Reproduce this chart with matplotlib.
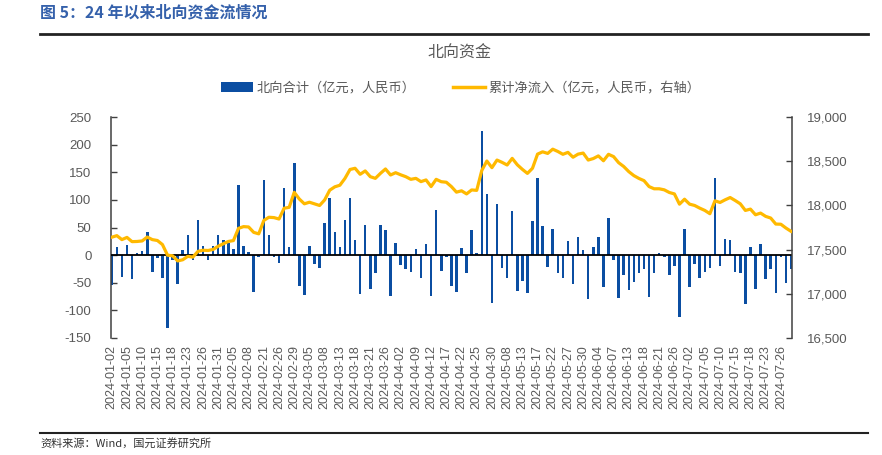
import matplotlib
matplotlib.use("Agg")
import matplotlib.pyplot as plt
from matplotlib.patches import Patch
from matplotlib.lines import Line2D
import numpy as np

plt.rcParams['font.family'] = ['Liberation Sans', 'Noto Sans CJK SC', 'DejaVu Sans']
plt.rcParams['axes.unicode_minus'] = False

# ---- data ----
trading_days = {
    1: [2, 3, 4, 5, 8, 9, 10, 11, 12, 15, 16, 17, 18, 19, 22, 23, 24, 25, 26, 29, 30, 31],
    2: [1, 2, 5, 6, 7, 8, 19, 20, 21, 22, 23, 26, 27, 28, 29],
    3: [1, 4, 5, 6, 7, 8, 11, 12, 13, 14, 15, 18, 19, 20, 21, 22, 25, 26, 27, 28],
    4: [2, 3, 8, 9, 10, 11, 12, 15, 16, 17, 18, 19, 22, 23, 24, 25, 26, 29, 30],
    5: [6, 7, 8, 9, 10, 13, 14, 16, 17, 20, 21, 22, 23, 24, 27, 28, 29, 30, 31],
    6: [3, 4, 5, 6, 7, 11, 12, 13, 14, 17, 18, 19, 20, 21, 24, 25, 26, 27, 28],
    7: [2, 3, 4, 5, 8, 9, 10, 11, 12, 15, 16, 17, 18, 19, 22, 23, 24, 25, 26, 29, 30],
}
dates = [f"2024-{m:02d}-{d:02d}" for m, days in trading_days.items() for d in days]

northbound = [
    -54, 15, -39, 19, -44, 3, 7, 42, -31, -5, -42, -131, -9, -53, 9, 37, -8, 63, 16, -8,
    17, 37, 27, 22, 11, 127, 16, 5, -66, -3, 136, 37, -3, -14, 122, 14, 166, -55, -73, 16,
    -16, -23, 59, 103, 42, 15, 63, 103, 28, -71, 54, -62, -33, 54, 46, -74, 22, -18, -25, -31,
    11, -42, 20, -74, 81, -29, -3, -55, -67, 13, -32, 46, 3, 225, 110, -87, 92, -23, -42, 79,
    -65, -47, -69, 62, 140, 52, -21, 48, -33, -42, 26, -53, 33, 9, -80, 15, 33, -57, 68, -9,
    -77, -36, -64, -48, -33, -25, -75, -33, 3, -4, -36, -20, -112, 48, -57, -16, -42, -31, -23, 140,
    -20, 30, 27, -31, -32, -89, 14, -62, 20, -44, -25, -68, -4, -51, -26,
]

cumulative = [
    17640, 17658, 17613, 17638, 17590, 17592, 17598, 17642, 17613, 17603,
    17557, 17437, 17430, 17372, 17385, 17424, 17415, 17480, 17493, 17490,
    17502, 17538, 17566, 17592, 17602, 17740, 17760, 17756, 17695, 17678,
    17830, 17866, 17862, 17846, 17968, 17978, 18148, 18072, 18018, 18036,
    18018, 17999, 18062, 18172, 18210, 18228, 18305, 18406, 18420, 18352,
    18390, 18325, 18306, 18362, 18412, 18344, 18370, 18346, 18325, 18295,
    18306, 18269, 18288, 18213, 18295, 18268, 18262, 18213, 18150, 18165,
    18130, 18175, 18170, 18395, 18502, 18427, 18513, 18487, 18457, 18532,
    18460, 18408, 18362, 18420, 18580, 18606, 18588, 18636, 18610, 18578,
    18600, 18545, 18580, 18592, 18513, 18530, 18560, 18505, 18578, 18552,
    18483, 18440, 18382, 18337, 18305, 18280, 18213, 18188, 18188, 18176,
    18146, 18130, 18014, 18070, 18014, 17999, 17969, 17943, 17906, 18052,
    18033, 18063, 18089, 18055, 18018, 17943, 17958, 17894, 17913, 17876,
    17857, 17789, 17787, 17744, 17707,
]

left_ticks = [-150, -100, -50, 0, 50, 100, 150, 200, 250]
right_ticks = [16500, 17000, 17500, 18000, 18500, 19000]

fig_title = "图 5：24 年以来北向资金流情况"
chart_title = "北向资金"
bar_label = "北向合计（亿元，人民币）"
line_label = "累计净流入（亿元，人民币，右轴）"
source_text = "资料来源：Wind，国元证券研究所"

BLUE = "#0B4EA2"
GOLD = "#FFB900"
GRAY = "#595959"

W, H = 882, 455
fig = plt.figure(figsize=(W / 100, H / 100), dpi=100)

L, R, T, B = 111, 792, 117, 338
ax = fig.add_axes([L / W, 1 - B / H, (R - L) / W, (B - T) / H])

x = np.arange(len(dates))
ax.bar(x, northbound, width=0.5, color=BLUE, zorder=2)
ax.axhline(0, color="black", lw=1.3, zorder=3)
ax.set_xlim(-0.15, len(dates) - 0.8)
ax.set_ylim(-150, 250)
ax.set_yticks(left_ticks)
ax.set_yticklabels([str(v) for v in left_ticks])
ax.set_xticks(x[::3])
ax.set_xticklabels(dates[::3], rotation=90, fontsize=9, color=GRAY)
ax.tick_params(axis='x', length=0, pad=5)
ax.tick_params(axis='y', direction='in', length=4, width=1, color="#404040",
               labelsize=9.5, labelcolor=GRAY, pad=14)
for s in ['top', 'bottom', 'right']:
    ax.spines[s].set_visible(False)
ax.spines['left'].set_color("#404040")
ax.spines['left'].set_linewidth(1.1)

ax2 = ax.twinx()
ax2.plot(x, cumulative, color=GOLD, lw=2.3, zorder=4, solid_joinstyle='round')
ax2.set_ylim(16500, 19000)
ax2.set_yticks(right_ticks)
ax2.set_yticklabels([f"{v:,}" for v in right_ticks])
ax2.tick_params(axis='y', direction='in', length=4, width=1, color="#404040",
                labelsize=9.5, labelcolor=GRAY, pad=11)
for s in ['top', 'bottom', 'left']:
    ax2.spines[s].set_visible(False)
ax2.spines['right'].set_color("#404040")
ax2.spines['right'].set_linewidth(1.1)

# titles
fig.text(40 / W, 1 - 12 / H, fig_title, fontsize=11.5, fontweight='bold',
         color="#3561AB", va='center', ha='left', family=['Noto Sans CJK SC', 'DejaVu Sans'])
fig.add_artist(Line2D([40 / W, 868 / W], [1 - 34 / H, 1 - 34 / H], color="#222222", lw=2))
fig.text(459 / W, 1 - 53 / H, chart_title, fontsize=11.5, color=GRAY,
         ha='center', va='center', family=['Noto Sans CJK SC', 'DejaVu Sans'])

handles = [Patch(facecolor=BLUE, edgecolor='none', label=bar_label),
           Line2D([0], [0], color=GOLD, lw=2.5, label=line_label)]
leg = fig.legend(handles=handles, loc='center', bbox_to_anchor=(461 / W, 1 - 88 / H),
                 ncol=2, frameon=False, fontsize=9.5, handlelength=2.4,
                 handletextpad=0.3, columnspacing=2.8,
                 prop={'family': ['Noto Sans CJK SC', 'DejaVu Sans'], 'size': 9.5})
for t in leg.get_texts():
    t.set_color(GRAY)

fig.add_artist(Line2D([40 / W, 868 / W], [1 - 433 / H, 1 - 433 / H], color="#222222", lw=1.5))
fig.text(40 / W, 1 - 443 / H, source_text, fontsize=8, color="#333333",
         ha='left', va='center', family=['Noto Sans CJK SC', 'DejaVu Sans'])

fig.savefig("out.png", dpi=100)
